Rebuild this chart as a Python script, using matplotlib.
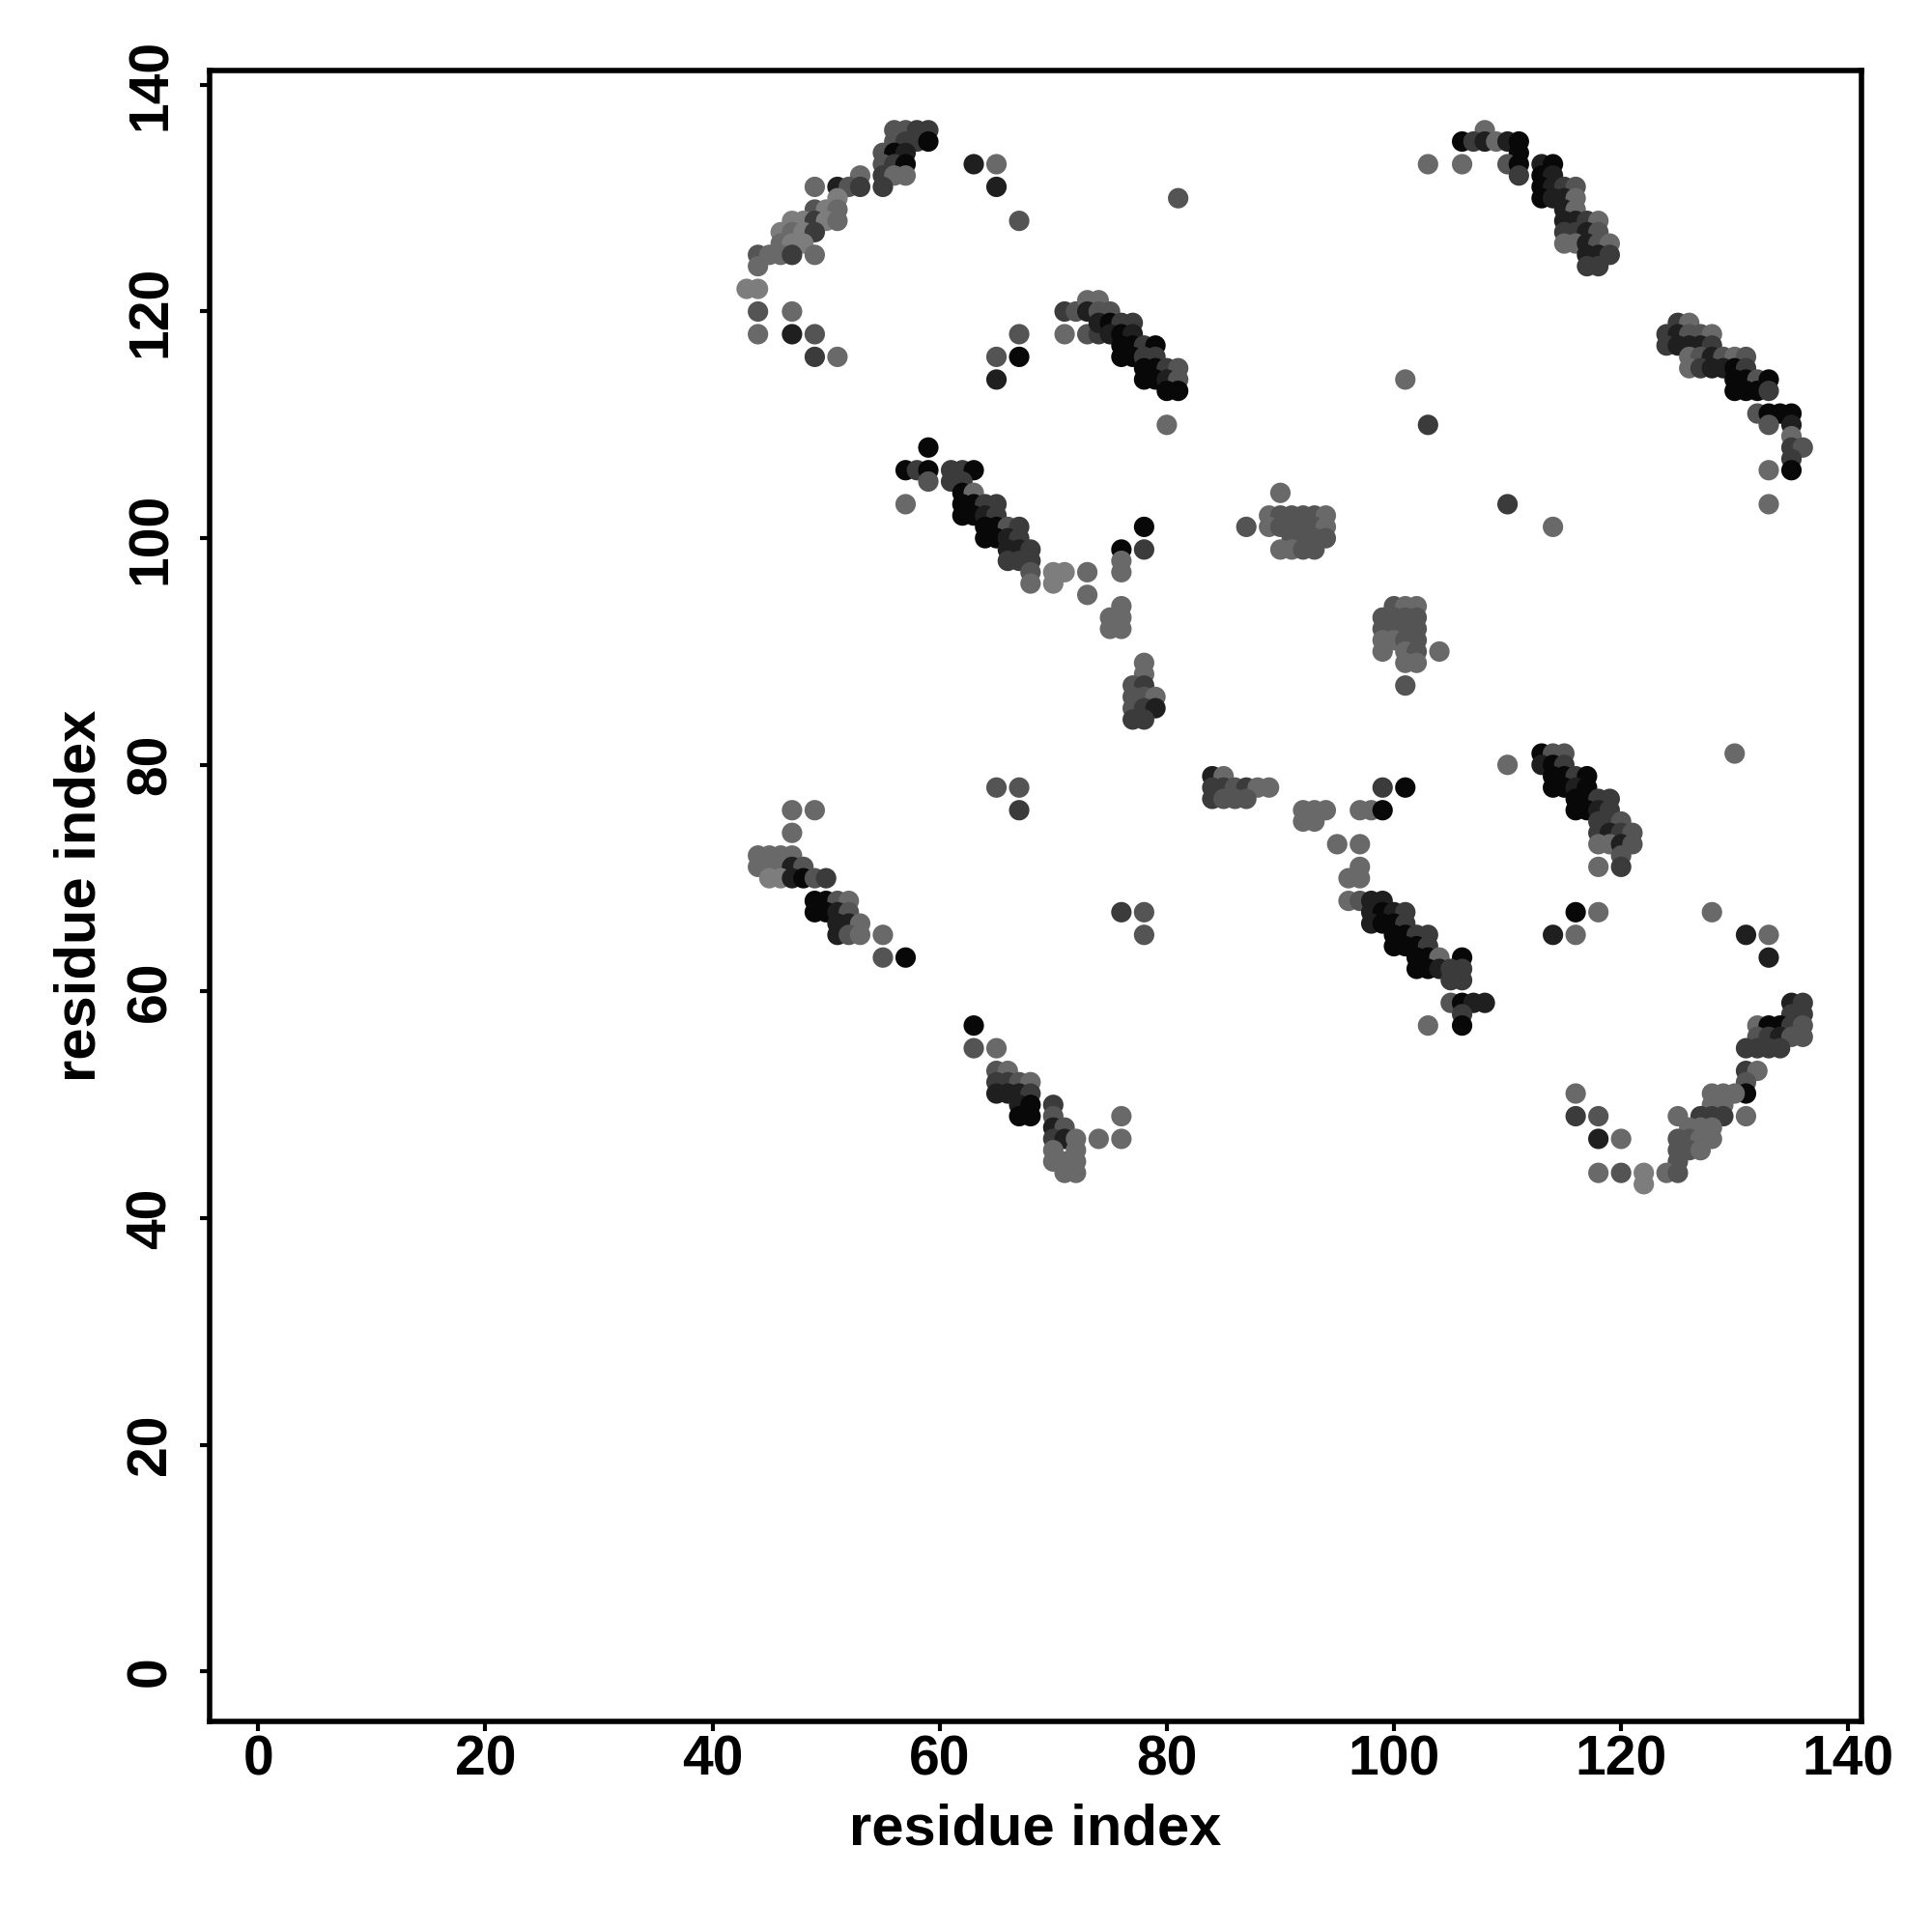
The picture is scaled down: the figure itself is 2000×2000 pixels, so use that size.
import matplotlib
matplotlib.use("Agg")
import matplotlib.pyplot as plt
import numpy as np

# ---- data: (residue i, residue j, contact level 0=strongest .. 5=weakest) ----
cluster_A = [(56,136,3),(57,136,3),(58,136,2),(59,136,2),
    (56,135,3),(57,135,2),(58,135,2),(59,135,0),
    (55,134,3),(56,134,0),(57,134,1),
    (55,133,3),(56,133,2),(57,133,0),
    (55,132,2),(56,132,4),(57,132,4),(53,132,4),
    (49,131,4),(51,131,1),(52,131,3),(53,131,2),(55,131,2),
    (51,130,5),
    (49,129,3),(50,129,5),(51,129,4),
    (47,128,5),(48,128,5),(49,128,2),(50,128,5),(51,128,4),
    (46,127,5),(47,127,4),(48,127,5),(49,127,2),
    (46,126,4),(47,126,5),(48,126,5),
    (44,125,3),(45,125,4),(46,125,4),(47,125,2),(49,125,4),
    (44,124,4),(43,122,5),(44,122,5),
    (44,120,3),(47,120,4),
    (44,118,4),(47,118,1),(49,118,3),
    (49,116,2),(51,116,4),
    (63,133,1),(65,133,4),(65,131,1),(67,128,3),(65,116,3),(67,118,3),
    (67,116,0),(65,114,1),(81,130,3)]

cluster_B = [(71,120,2),(72,120,3),(73,121,4),(74,121,4),(73,120,1),(74,120,3),(75,120,3),
    (71,118,4),(73,118,3),(74,118,2),(74,119,1),(75,119,0),(76,119,2),(77,119,2),
    (75,118,1),(76,118,0),(77,118,1),
    (76,117,0),(77,117,0),(78,117,2),(79,117,0),
    (76,116,0),(77,116,0),(78,116,2),(79,116,2),
    (78,115,0),(79,115,0),(80,115,2),(81,115,3),
    (78,114,0),(79,114,0),(80,114,1),(81,114,3),
    (80,113,0),(81,113,0),(80,110,4)]

cluster_C = [(108,136,4),(106,135,0),(107,135,2),(108,135,1),(109,135,4),(110,135,1),(111,135,0),
    (111,134,0),
    (106,133,4),(110,133,3),(111,133,0),(113,133,1),(114,133,0),
    (111,132,2),(113,132,0),(114,132,1),
    (113,131,0),(114,131,1),(115,131,2),(116,131,3),
    (113,130,0),(114,130,1),(115,130,1),(116,130,4),
    (115,129,1),(116,129,4),
    (115,128,1),(116,128,1),(117,128,2),(118,128,4),
    (115,127,2),(116,127,2),(117,127,1),(118,127,3),
    (115,126,4),(116,126,4),(117,126,1),(118,126,3),(119,126,4),
    (117,125,1),(118,125,1),(119,125,2),
    (117,124,2),(118,124,2),(103,133,4)]

cluster_D = [(125,119,2),(126,119,4),
    (124,118,2),(125,118,1),(126,118,3),(127,118,3),(128,118,4),
    (124,117,2),(125,117,1),(126,117,1),(127,117,1),(128,117,2),
    (126,116,4),(127,116,3),(128,116,1),(129,116,3),(130,116,4),(131,116,3),
    (126,115,4),(127,115,2),(128,115,1),(129,115,1),(130,115,0),(131,115,2),
    (130,114,0),(131,114,0),(132,114,3),(133,114,0),
    (130,113,0),(131,113,0),(132,113,0),(133,113,2),
    (132,111,3),(133,111,0),(134,111,0),(135,111,0),
    (133,110,3),(135,110,1),(135,109,4),
    (135,108,2),(136,108,3),(135,107,2),
    (133,106,4),(135,106,0),(133,103,4)]

cluster_E = [(59,108,0),
    (57,106,0),(58,106,2),(59,106,0),(61,106,2),(62,106,2),(63,106,0),
    (59,105,3),(61,105,2),(62,105,2),
    (62,104,0),(63,104,4),
    (57,103,4),(62,103,0),(63,103,0),(64,103,2),(65,103,2),
    (62,102,0),(63,102,0),(64,102,1),(65,102,2),
    (64,101,0),(65,101,0),(66,101,3),(67,101,2),
    (64,100,0),(65,100,0),(66,100,1),(67,100,2),
    (66,99,1),(67,99,1),(68,99,2),
    (66,98,2),(67,98,2),(68,98,2),
    (68,97,3),(70,97,5),(71,97,5),(73,97,4),
    (68,96,4),(70,96,5),(73,95,4)]

cluster_F = [(78,101,0),(76,99,0),(78,99,2),(76,98,4),(76,97,4),
    (76,94,4),(75,93,4),(76,93,4),(75,92,4),(76,92,4),
    (78,89,4),(78,88,4),(77,87,3),(78,87,2),(77,86,3),(78,86,3),(79,86,4),
    (77,85,3),(78,85,2),(79,85,1),(77,84,2),(78,84,2)]

cluster_G = [(90,104,4),(87,101,3),
    (89,102,4),(90,102,3),(91,102,3),(92,102,3),(93,102,3),(94,102,4),
    (89,101,4),(90,101,3),(91,101,3),(92,101,3),(93,101,3),(94,101,4),
    (91,100,3),(92,100,3),(93,100,3),(94,100,3),
    (90,99,4),(91,99,4),(92,99,3),(93,99,3)]

cluster_H = [(100,94,3),(101,94,4),(102,94,4),
    (99,93,3),(100,93,3),(101,93,3),(102,93,3),
    (99,92,3),(100,92,3),(101,92,3),(102,92,3),
    (99,91,4),(100,91,4),(101,91,3),(102,91,3),
    (99,90,4),(101,90,4),(102,90,3),(104,90,4),
    (101,89,4),(102,89,4),(101,87,3)]

cluster_I = [(84,79,1),(85,79,4),(84,78,2),(85,78,2),(86,78,3),(87,78,2),(88,78,4),(89,78,4),
    (84,77,2),(85,77,3),(86,77,3),(87,77,3),
    (92,76,4),(93,76,4),(94,76,4),(92,75,4),(93,75,4),
    (99,78,2),(101,78,0),(97,76,4),(98,76,4),(99,76,0),
    (95,73,4),(97,73,4),(97,71,4),(96,70,4),(97,70,4)]

cluster_K = [(96,68,4),(97,68,3),(98,68,1),(99,68,1),
    (98,67,1),(99,67,0),(100,67,1),(101,67,2),
    (98,66,1),(99,66,0),(100,66,0),(101,66,2),
    (100,65,0),(101,65,0),(102,65,2),(103,65,2),
    (100,64,0),(101,64,0),(102,64,0),(103,64,2),
    (102,63,0),(103,63,0),(104,63,4),(106,63,0),
    (102,62,0),(103,62,0),(104,62,1),(105,62,2),(106,62,2),
    (105,61,2),(106,61,2),
    (105,59,3),(106,59,0),(107,59,1),(108,59,1),
    (106,58,2),(106,57,0),(103,57,4)]

cluster_L = [(110,80,4),(113,81,0),(114,81,3),(115,81,3),
    (113,80,1),(114,80,0),(115,80,2),
    (114,79,0),(115,79,0),(116,79,2),(117,79,0),
    (114,78,0),(115,78,0),(116,78,1),(117,78,0),
    (116,77,0),(117,77,0),(118,77,2),(119,77,2),
    (116,76,0),(117,76,0),(118,76,1),(119,76,2),
    (118,75,2),(119,75,2),(120,75,3),
    (118,74,2),(119,74,1),(120,74,2),(121,74,3),
    (118,73,4),(119,73,4),(120,73,1),(121,73,3),
    (120,72,3),(118,71,4),(120,71,2),(130,81,4),
    (116,67,0),(118,67,4),(128,67,4),(114,65,1),(116,65,4),
    (131,65,1),(133,65,4),(133,63,1),
    (110,103,2),(114,101,4),(101,114,4),(103,110,2)]

cluster_M = [(135,59,1),(136,59,2),(135,58,2),(136,58,2),
    (132,57,4),(133,57,0),(134,57,0),(135,57,2),(136,57,3),
    (132,56,3),(133,56,2),(134,56,1),(135,56,3),(136,56,3),
    (131,55,2),(132,55,2),(133,55,2),(134,55,2),
    (131,53,2),(132,53,4),(131,52,3),
    (131,51,0),(128,51,4),(129,51,4),(130,51,4),
    (128,50,4),(129,50,4),
    (125,49,4),(127,49,2),(128,49,2),(129,49,2),(131,49,4),
    (126,48,4),(127,48,4),(128,48,4),
    (125,47,3),(126,47,3),(127,47,4),(128,47,4),
    (125,46,3),(126,46,3),(127,46,4),
    (125,45,3),
    (118,44,4),(120,44,3),(122,44,5),(124,44,4),(125,44,3),(122,43,5),
    (116,51,4),(116,49,2),(118,49,3),(118,47,1),(120,47,4)]

cluster_N = [(47,76,4),(49,76,4),(47,74,4),
    (44,72,4),(45,72,4),(46,72,4),(47,72,4),
    (44,71,4),(45,71,4),(46,71,4),(47,71,1),(48,71,3),
    (45,70,5),(46,70,5),(47,70,1),(48,70,0),(49,70,3),(50,70,2),
    (49,68,0),(50,68,0),(51,68,3),(52,68,4),
    (49,67,0),(50,67,0),(51,67,1),(52,67,3),
    (51,66,1),(52,66,1),(53,66,4),
    (51,65,1),(52,65,3),(53,65,4),(55,65,4),
    (55,63,3),(57,63,0),
    (65,78,3),(67,78,3),(67,76,2)]

cluster_O = [(63,57,0),(63,55,3),(65,55,4),
    (65,53,3),(66,53,4),
    (65,52,2),(66,52,2),(67,52,3),(68,52,4),
    (65,51,1),(66,51,1),(67,51,1),(68,51,2),
    (67,50,1),(68,50,0),(67,49,0),(68,49,0),
    (70,50,2),(70,49,3),(70,48,1),(71,48,3),
    (70,47,2),(71,47,1),(72,47,4),(74,47,4),
    (70,46,4),(72,46,4),
    (70,45,4),(71,45,4),(72,45,4),
    (71,44,4),(72,44,4),
    (76,49,4),(76,47,4),(76,67,2),(78,67,3),(78,65,3)]

level_gray = [0.03, 0.12, 0.23, 0.33, 0.41, 0.49]
x_ticks = [0, 20, 40, 60, 80, 100, 120, 140]
y_ticks = [0, 20, 40, 60, 80, 100, 120, 140]
x_label = "residue index"
y_label = "residue index"

clusters = [cluster_A, cluster_B, cluster_C, cluster_D, cluster_E, cluster_F,
            cluster_G, cluster_H, cluster_I, cluster_K, cluster_L, cluster_M,
            cluster_N, cluster_O]

plt.rcParams['font.family'] = ['Liberation Sans', 'DejaVu Sans']
fig = plt.figure(figsize=(10, 10), dpi=200)
ax = fig.add_axes([0.1084, 0.109, 0.8553, 0.8547])

for cl in clusters:
    arr = np.array(cl, dtype=float)
    cols = [(level_gray[int(l)],) * 3 for l in arr[:, 2]]
    ax.scatter(arr[:, 0], arr[:, 1], s=58, c=cols, linewidths=0, zorder=3)

ax.set_xlim(-4.3, 141.2)
ax.set_ylim(-4.4, 141.3)
ax.set_xticks(x_ticks)
ax.set_yticks(y_ticks)
ax.set_xticklabels([str(t) for t in x_ticks], fontsize=20.5, fontweight='bold')
ax.set_yticklabels([str(t) for t in y_ticks], fontsize=20.5, fontweight='bold',
                   rotation=90, va='center')
ax.tick_params(direction='out', length=3.5, width=1.5)
ax.tick_params(axis='x', pad=1.5)
ax.tick_params(axis='y', pad=8.5)
for sp in ax.spines.values():
    sp.set_linewidth(2)
ax.set_xlabel(x_label, fontsize=21.5, fontweight='bold', labelpad=6)
ax.set_ylabel(y_label, fontsize=21.5, fontweight='bold', labelpad=7)

fig.savefig("out.png", dpi=200)
